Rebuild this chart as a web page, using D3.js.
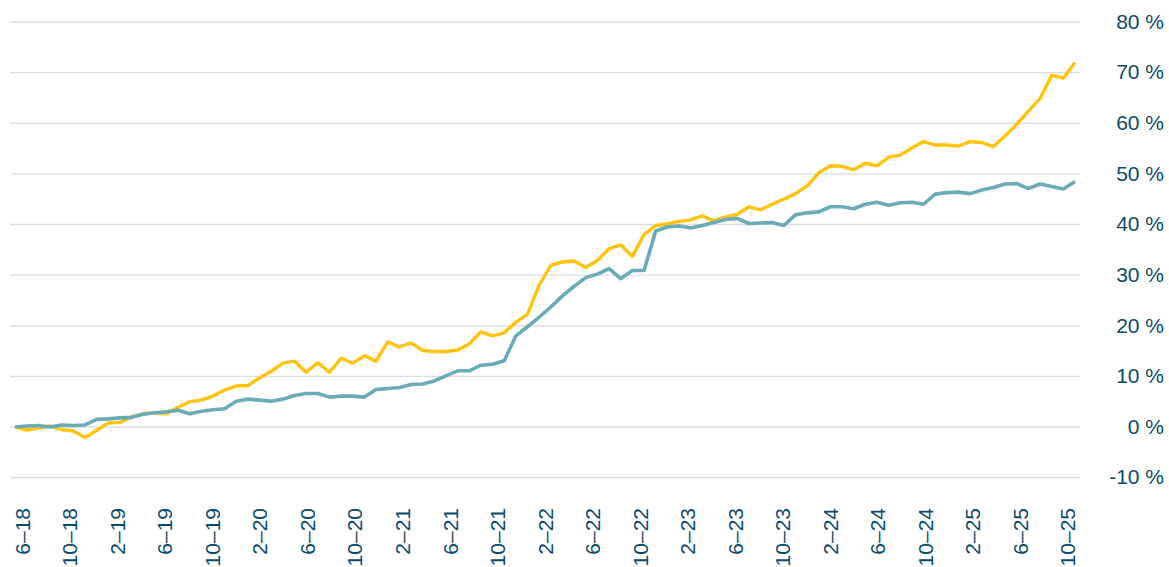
<!DOCTYPE html>
<html>
<head>
<meta charset="utf-8">
<script src="https://cdn.jsdelivr.net/npm/d3@7"></script>
<style>
  body { margin: 0; background: #fff; }
  .axis text { font-family: "Liberation Sans", Arial, sans-serif; fill: #0c4b6c; }
</style>
</head>
<body>
<div id="chart"></div>
<script>
// tick labels along the bottom (every 4th month)
var tickLabels = ["6–18", "10–18", "2–19", "6–19", "10–19", "2–20", "6–20", "10–20",
  "2–21", "6–21", "10–21", "2–22", "6–22", "10–22", "2–23", "6–23", "10–23",
  "2–24", "6–24", "10–24", "2–25", "6–25", "10–25"];

var yTicks = [-10, 0, 10, 20, 30, 40, 50, 60, 70, 80];

// cumulative change in %, one value per period
var yellowSeries = [0, -0.6, -0.2, 0.2, -0.5, -0.8, -2.1, -0.7, 0.8, 0.9,
  2.0, 2.6, 2.8, 2.6, 3.9, 5.0, 5.3, 6.1, 7.3, 8.1,
  8.2, 9.7, 11.0, 12.6, 13.0, 10.8, 12.7, 10.8, 13.6, 12.6,
  14.1, 13.0, 16.8, 15.8, 16.6, 15.1, 14.9, 14.9, 15.2, 16.4,
  18.8, 18.0, 18.6, 20.7, 22.3, 28.0, 31.9, 32.6, 32.8, 31.5,
  32.9, 35.2, 36.0, 33.7, 38.0, 39.8, 40.1, 40.6, 40.9, 41.7,
  40.7, 41.5, 42.0, 43.5, 42.9, 44.0, 45.0, 46.1, 47.6, 50.2,
  51.6, 51.5, 50.8, 52.1, 51.6, 53.3, 53.7, 55.1, 56.4, 55.7,
  55.7, 55.5, 56.4, 56.2, 55.4, 57.5, 59.8, 62.4, 64.9, 69.5,
  68.9, 72.0];

var tealSeries = [0, 0.2, 0.3, 0.0, 0.4, 0.3, 0.4, 1.5, 1.6, 1.8,
  1.9, 2.5, 2.8, 3.0, 3.3, 2.6, 3.1, 3.4, 3.6, 5.1,
  5.5, 5.3, 5.1, 5.5, 6.2, 6.6, 6.6, 5.9, 6.1, 6.1,
  5.9, 7.4, 7.6, 7.8, 8.4, 8.5, 9.1, 10.1, 11.1, 11.1,
  12.2, 12.4, 13.1, 18.0, 19.8, 21.7, 23.7, 25.9, 27.8, 29.5,
  30.2, 31.3, 29.3, 30.9, 30.9, 38.7, 39.5, 39.7, 39.3, 39.8,
  40.4, 41.0, 41.2, 40.2, 40.3, 40.4, 39.8, 41.9, 42.3, 42.5,
  43.5, 43.5, 43.1, 44.0, 44.4, 43.8, 44.3, 44.4, 44.0, 46.0,
  46.3, 46.4, 46.1, 46.8, 47.3, 48.0, 48.1, 47.1, 48.0, 47.5,
  47.0, 48.5];

var svgWidth = 1169;
var svgHeight = 567;

var svg = d3.select("#chart")
  .append("svg")
  .attr("width", svgWidth)
  .attr("height", svgHeight);

var yScale = d3.scaleLinear()
  .domain([-10, 80])
  .range([477.6, 22]);

var xScale = d3.scaleLinear()
  .domain([0, yellowSeries.length - 1])
  .range([15, 1075]);

var labelScale = d3.scalePoint()
  .domain(tickLabels)
  .range([21.7, 1067.3]);

// gridlines
svg.append("g")
  .selectAll("line")
  .data(yTicks)
  .enter()
  .append("line")
  .attr("x1", 10)
  .attr("x2", 1080)
  .attr("y1", d => yScale(d))
  .attr("y2", d => yScale(d))
  .attr("stroke", "#dcdce7")
  .attr("stroke-width", 1.4);

// right-hand y labels
var rightAxis = d3.axisRight(yScale)
  .tickValues(yTicks)
  .tickSize(0)
  .tickFormat(d => d + " %");

svg.append("g")
  .classed("axis", true)
  .attr("transform", "translate(1164, 0)")
  .call(rightAxis)
  .call(g => g.select(".domain").remove())
  .selectAll("text")
  .attr("x", 0)
  .attr("dy", "0.3em")
  .style("text-anchor", "end")
  .style("font-size", "21px");

// bottom labels, rotated
var bottomAxis = d3.axisBottom(labelScale).tickSize(0);

svg.append("g")
  .classed("axis", true)
  .attr("transform", "translate(0, 508)")
  .call(bottomAxis)
  .call(g => g.select(".domain").remove())
  .selectAll("text")
  .attr("transform", "rotate(-90)")
  .attr("x", 0)
  .attr("y", 0)
  .attr("dy", "0.36em")
  .style("text-anchor", "end")
  .style("font-size", "21px");

var line = d3.line()
  .x((d, i) => xScale(i))
  .y(d => yScale(d));

svg.append("path")
  .datum(yellowSeries)
  .attr("d", line)
  .attr("fill", "none")
  .attr("stroke", "#ffc30d")
  .attr("stroke-width", 3.4)
  .attr("stroke-linejoin", "round");

svg.append("path")
  .datum(tealSeries)
  .attr("d", line)
  .attr("fill", "none")
  .attr("stroke", "#6aabb8")
  .attr("stroke-width", 3.6)
  .attr("stroke-linejoin", "round");
</script>
</body>
</html>
